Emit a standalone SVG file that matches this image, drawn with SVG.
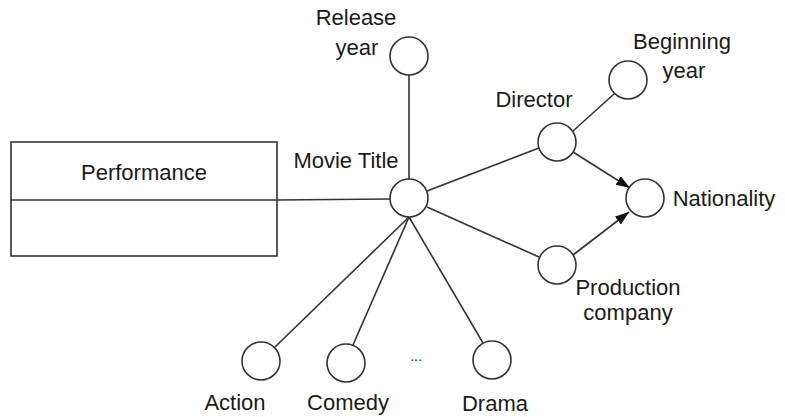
<svg xmlns="http://www.w3.org/2000/svg" width="785" height="417" viewBox="0 0 785 417">
<style>
.n{fill:#fff;stroke:#333;stroke-width:1.6}
.c{stroke:#333;stroke-width:1.6;fill:none}
text{font-family:"Liberation Sans",Arial,sans-serif;font-size:22px;fill:#1a1a1a;text-anchor:middle}
</style>
<defs>
<marker id="ah" viewBox="0 0 14 10" refX="14" refY="5" markerWidth="14" markerHeight="10" markerUnits="userSpaceOnUse" orient="auto">
<path d="M0,0 L14,5 L0,10 z" fill="#111"/>
</marker>
</defs>
<rect width="785" height="417" fill="#fff"/>
<g id="connectors">
<line class="c" x1="277" y1="200" x2="390" y2="199"/>
<line class="c" x1="409" y1="179" x2="409" y2="75"/>
<line class="c" x1="427" y1="191" x2="539" y2="148"/>
<line class="c" x1="427" y1="207" x2="539" y2="257"/>
<line class="c" x1="409" y1="217" x2="275" y2="347"/>
<line class="c" x1="409" y1="217" x2="353" y2="345"/>
<line class="c" x1="409" y1="217" x2="483" y2="343"/>
<line class="c" x1="573" y1="131" x2="614" y2="94"/>
<line class="c" x1="573" y1="152" x2="630" y2="188" marker-end="url(#ah)"/>
<line class="c" x1="573" y1="255" x2="629" y2="212" marker-end="url(#ah)"/>
</g>
<g id="performance">
<rect class="n" x="11" y="142" width="266" height="114"/>
<line class="c" x1="11" y1="200" x2="277" y2="200"/>
<text x="144" y="180">Performance</text>
</g>
<g id="release-year">
<circle class="n" cx="409" cy="56" r="19"/>
<text x="356" y="25">Release</text>
<text x="357" y="55">year</text>
</g>
<g id="movie-title">
<circle class="n" cx="409" cy="198" r="19"/>
<text x="346" y="168">Movie Title</text>
</g>
<g id="director">
<circle class="n" cx="557" cy="142" r="19"/>
<text x="534" y="107">Director</text>
</g>
<g id="beginning-year">
<circle class="n" cx="628" cy="80" r="19"/>
<text x="682" y="49">Beginning</text>
<text x="684" y="78">year</text>
</g>
<g id="nationality">
<circle class="n" cx="645" cy="198" r="19"/>
<text x="724" y="206">Nationality</text>
</g>
<g id="production-company">
<circle class="n" cx="557" cy="265" r="19"/>
<text x="628" y="295">Production</text>
<text x="628" y="320">company</text>
</g>
<g id="action">
<circle class="n" cx="261" cy="361" r="19"/>
<text x="235" y="410">Action</text>
</g>
<g id="comedy">
<circle class="n" cx="346" cy="363" r="19"/>
<text x="348" y="410">Comedy</text>
</g>
<g id="ellipsis">
<text x="416" y="361" style="font-size:14px">...</text>
</g>
<g id="drama">
<circle class="n" cx="492" cy="360" r="19"/>
<text x="495" y="411">Drama</text>
</g>
</svg>
